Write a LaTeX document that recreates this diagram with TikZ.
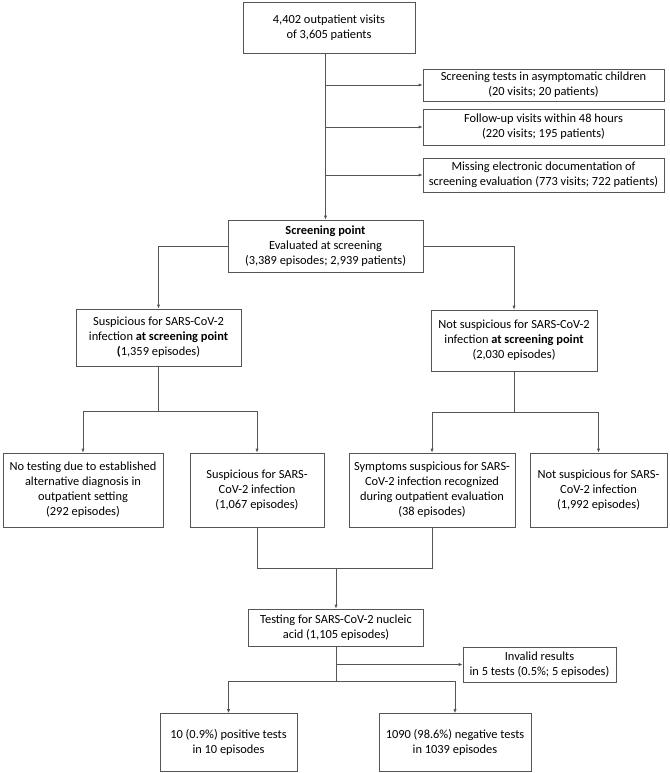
\documentclass[tikz,border=0pt]{standalone}
\usepackage{fontspec}
\setmainfont{Carlito}
\usetikzlibrary{arrows.meta}
\definecolor{linegray}{RGB}{85,85,85}
\tikzset{
  box/.style={draw=linegray, line width=0.7pt, fill=white, align=center, inner sep=0pt,
    node font=\fontsize{12.4}{15}\selectfont, text=black},
  conn/.style={draw=linegray, line width=0.7pt},
  arr/.style={conn, -{Latex[length=4pt,width=3.2pt]}}
}
\begin{document}
\begin{tikzpicture}[x=1pt,y=-1pt]
\useasboundingbox (0,0) rectangle (669,773);
% boxes
\node[box, minimum width=172pt, minimum height=51pt] (top) at (329,27.5) {4,402 outpatient visits\\of 3,605 patients};
\node[box, minimum width=241pt, minimum height=32pt] (scr1) at (543.5,85) {Screening tests in asymptomatic children\\(20 visits; 20 patients)};
\node[box, minimum width=241pt, minimum height=36pt] (scr2) at (543.5,127) {Follow-up visits within 48 hours\\(220 visits; 195 patients)};
\node[box, minimum width=241pt, minimum height=34pt] (scr3) at (543.5,175) {Missing electronic documentation of\\screening evaluation (773 visits; 722 patients)};
\node[box, minimum width=195pt, minimum height=52pt] (sp) at (325.5,246) {\textbf{Screening point}\\Evaluated at screening\\(3,389 episodes; 2,939 patients)};
\node[box, minimum width=165pt, minimum height=57pt] (susp) at (158.5,337.5) {Suspicious for SARS-CoV-2\\infection \textbf{at screening point}\\\textbf{(}1,359 episodes)};
\node[box, minimum width=166pt, minimum height=61pt] (nsusp) at (514,340.5) {Not suspicious for SARS-CoV-2\\infection \textbf{at screening point}\\(2,030 episodes)};
\node[box, minimum width=160pt, minimum height=74pt] (notest) at (83,490) {No testing due to established\\alternative diagnosis in\\outpatient setting\\(292 episodes)};
\node[box, minimum width=134pt, minimum height=74pt] (susp2) at (257,490) {Suspicious for SARS-\\CoV-2 infection\\(1,067 episodes)};
\node[box, minimum width=166pt, minimum height=74pt] (sympt) at (432,490) {Symptoms suspicious for SARS-\\CoV-2 infection recognized\\during outpatient evaluation\\(38 episodes)};
\node[box, minimum width=137pt, minimum height=74pt] (nsusp2) at (598.5,490) {Not suspicious for SARS-\\CoV-2 infection\\(1,992 episodes)};
\node[box, minimum width=175pt, minimum height=37pt] (test) at (336,627.5) {Testing for SARS-CoV-2 nucleic\\acid (1,105 episodes)};
\node[box, minimum width=153pt, minimum height=35pt] (invalid) at (539.5,664.5) {Invalid results\\in 5 tests (0.5\%; 5 episodes)};
\node[box, minimum width=137pt, minimum height=58pt] (pos) at (228.5,742.5) {10 (0.9\%) positive tests\\in 10 episodes};
\node[box, minimum width=152pt, minimum height=58pt] (neg) at (455,742.5) {1090 (98.6\%) negative tests\\in 1039 episodes};
% junctions
\coordinate (j1) at (158.5,411);
\coordinate (j2) at (514,412);
\coordinate (j3) at (336,568);
\coordinate (j4) at (336,681);
% connectors
\draw[arr] (sp.north |- top.south) -- (sp.north);
\draw[arr] (sp.north |- scr1.west) -- (scr1.west);
\draw[arr] (sp.north |- scr2.west) -- (scr2.west);
\draw[arr] (sp.north |- scr3.west) -- (scr3.west);
\draw[arr] (sp.west) -| (susp.north);
\draw[arr] (sp.east) -| (nsusp.north);
\draw[conn] (susp.south) -- (j1);
\draw[arr] (j1) -| (notest.north);
\draw[arr] (j1) -| (susp2.north);
\draw[conn] (nsusp.south) -- (j2);
\draw[arr] (j2) -| (sympt.north);
\draw[arr] (j2) -| (nsusp2.north);
\draw[conn] (susp2.south) |- (j3);
\draw[conn] (sympt.south) |- (j3);
\draw[arr] (j3) -- (test.north);
\draw[conn] (test.south) -- (j4);
\draw[arr] (test.south |- invalid.west) -- (invalid.west);
\draw[arr] (j4) -| (pos.north);
\draw[arr] (j4) -| (neg.north);
\end{tikzpicture}
\end{document}
